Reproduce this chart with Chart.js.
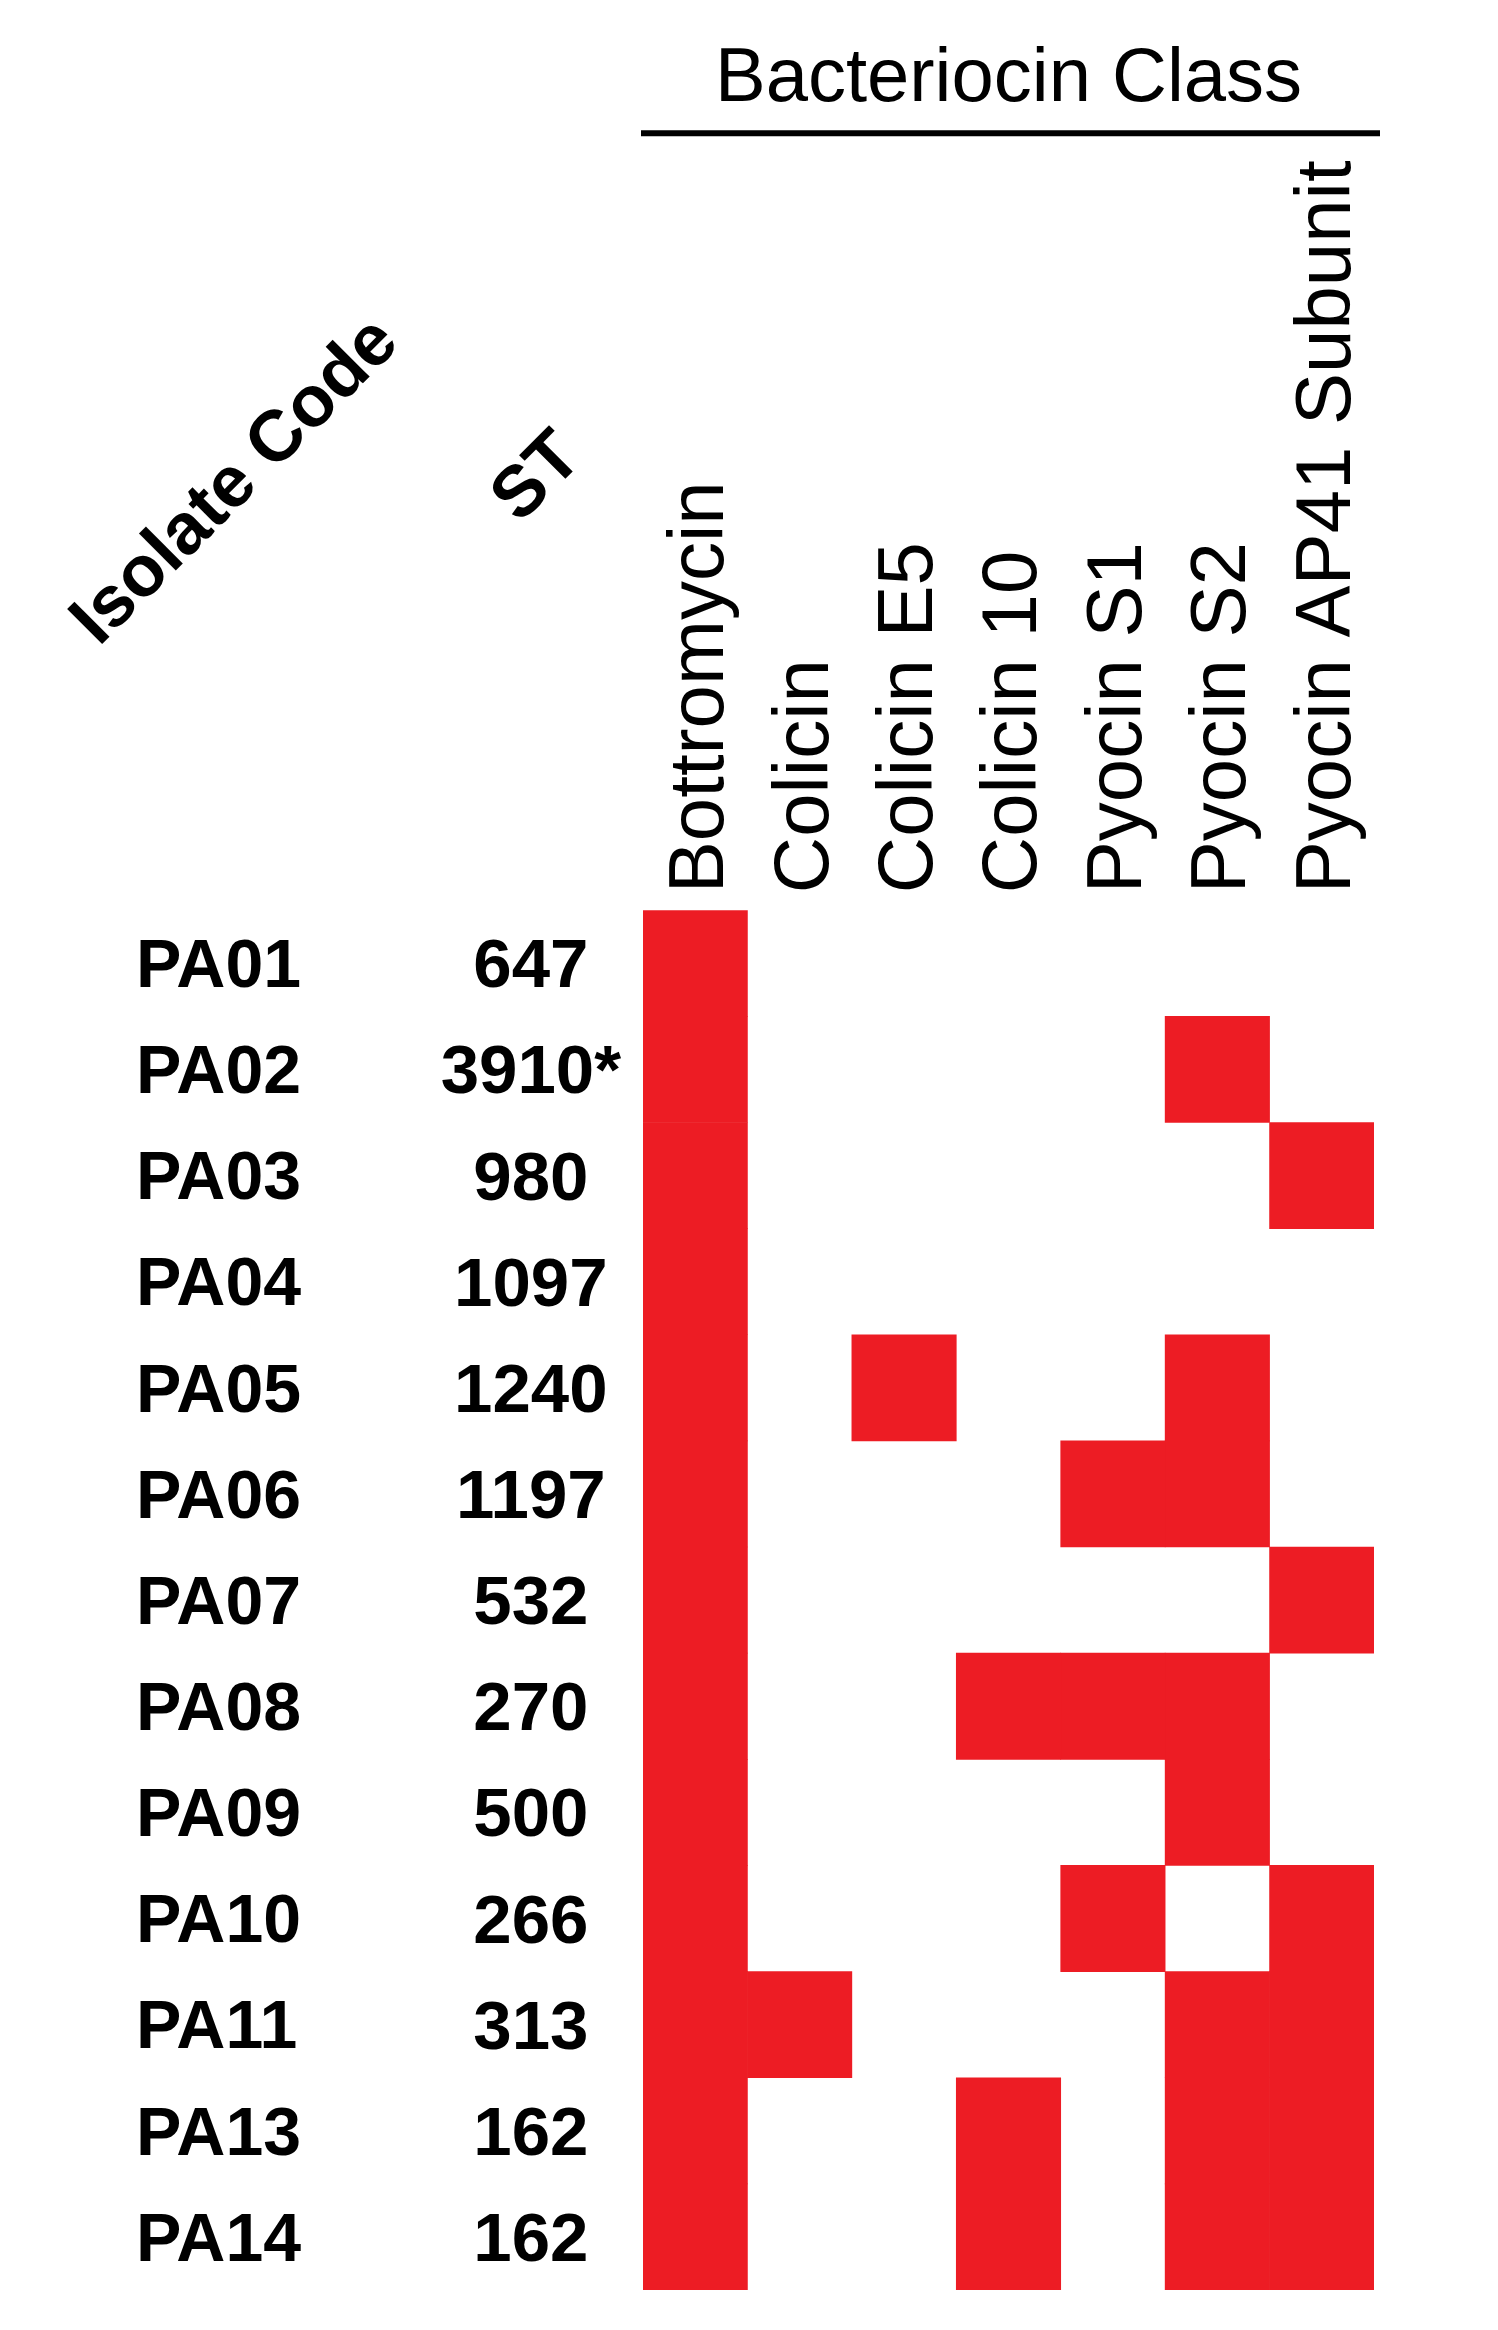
<!DOCTYPE html>
<html>
<head>
<meta charset="utf-8">
<title>Bacteriocin Class</title>
<script src="https://cdn.jsdelivr.net/npm/chart.js@4.4.1/dist/chart.umd.min.js"></script>
<style>
    html, body { margin: 0; padding: 0; background: #ffffff; }
    #wrap { width: 1498px; height: 2330px; position: relative; }
</style>
</head>
<body>
<div id="wrap"><canvas id="bacteriocinChart"></canvas></div>
<script>
// isolates (rows) and their sequence types
const isolates = ['PA01', 'PA02', 'PA03', 'PA04', 'PA05', 'PA06', 'PA07', 'PA08', 'PA09', 'PA10', 'PA11', 'PA13', 'PA14'];
const sequenceTypes = ['647', '3910*', '980', '1097', '1240', '1197', '532', '270', '500', '266', '313', '162', '162'];

// bacteriocin classes (columns)
const bacteriocins = ['Bottromycin', 'Colicin', 'Colicin E5', 'Colicin 10', 'Pyocin S1', 'Pyocin S2', 'Pyocin AP41 Subunit'];

// presence (1) / absence (0) per isolate, one array per bacteriocin
const bottromycin = [1, 1, 1, 1, 1, 1, 1, 1, 1, 1, 1, 1, 1];
const colicin     = [0, 0, 0, 0, 0, 0, 0, 0, 0, 0, 1, 0, 0];
const colicinE5   = [0, 0, 0, 0, 1, 0, 0, 0, 0, 0, 0, 0, 0];
const colicin10   = [0, 0, 0, 0, 0, 0, 0, 1, 0, 0, 0, 1, 1];
const pyocinS1    = [0, 0, 0, 0, 0, 1, 0, 1, 0, 1, 0, 0, 0];
const pyocinS2    = [0, 1, 0, 0, 1, 1, 0, 1, 1, 0, 1, 1, 1];
const pyocinAP41  = [0, 0, 1, 0, 0, 0, 1, 0, 0, 1, 1, 1, 1];

const presence = [bottromycin, colicin, colicinE5, colicin10, pyocinS1, pyocinS2, pyocinAP41];

const FONT = "'Liberation Sans', Arial, Helvetica, sans-serif";
const RED = '#ED1C24';

document.addEventListener('DOMContentLoaded', function() {
    initializeChart();
});

// keep the label axes from pushing the grid inwards
function noScalePadding(scale) {
    scale.paddingTop = 0;
    scale.paddingBottom = 0;
    scale.paddingLeft = 0;
    scale.paddingRight = 0;
}

// underline under the title + the two slanted row headers
const headerPlugin = {
    id: 'headers',
    afterDraw(chart) {
        const ctx = chart.ctx;
        const area = chart.chartArea;
        const tb = chart.titleBlock;
        ctx.save();
        // underline below "Bacteriocin Class"
        ctx.strokeStyle = '#000';
        ctx.lineWidth = 6;
        ctx.beginPath();
        ctx.moveTo(area.left - 2, tb.bottom);
        ctx.lineTo(area.right + 6, tb.bottom);
        ctx.stroke();

        // slanted headers for the row label columns
        const yIso = chart.scales.y;
        const ySt = chart.scales.yST;
        ctx.fillStyle = '#000';
        ctx.font = 'bold 72px ' + FONT;
        ctx.textAlign = 'center';
        ctx.textBaseline = 'middle';

        ctx.translate(yIso.left + 100, area.top - 428);
        ctx.rotate(-Math.PI / 4);
        ctx.fillText('Isolate Code', 0, 0);
        ctx.setTransform(1, 0, 0, 1, 0, 0);

        ctx.translate(ySt.right - 105, area.top - 432);
        ctx.rotate(-Math.PI / 4);
        ctx.fillText('ST', 0, 0);
        ctx.restore();
    }
};

function initializeChart() {
    const ctx = document.getElementById('bacteriocinChart');

    const datasets = presence.map(function(col, c) {
        return {
            label: bacteriocins[c],
            data: col.map(function(p) { return p ? [c, c + 1] : null; }),
            backgroundColor: RED,
            borderWidth: 0,
            borderSkipped: false,
            barPercentage: 1,
            categoryPercentage: 1,
            grouped: false
        };
    });

    const chart = new Chart(ctx, {
        type: 'bar',
        data: {
            labels: isolates,
            datasets: datasets
        },
        options: {
            indexAxis: 'y',
            responsive: true,
            maintainAspectRatio: false,
            animation: false,
            layout: {
                padding: { left: 136, right: 124, top: 0, bottom: 40 }
            },
            plugins: {
                legend: { display: false },
                tooltip: { enabled: false },
                title: {
                    display: true,
                    text: 'Bacteriocin Class',
                    fullSize: false,
                    color: '#000',
                    font: { family: FONT, size: 76, weight: 'normal' },
                    padding: { top: 34, bottom: 8 }
                }
            },
            scales: {
                x: {
                    type: 'linear',
                    min: 0,
                    max: bacteriocins.length,
                    display: false
                },
                xTop: {
                    type: 'category',
                    position: 'top',
                    labels: bacteriocins,
                    offset: true,
                    grid: { display: false, drawTicks: false },
                    border: { display: false },
                    ticks: {
                        color: '#000',
                        autoSkip: false,
                        minRotation: 90,
                        maxRotation: 90,
                        padding: 17,
                        labelOffset: 100,
                        font: { family: FONT, size: 78 }
                    },
                    afterFit: function(scale) {
                        scale.height = 777;
                        noScalePadding(scale);
                    }
                },
                y: {
                    type: 'category',
                    position: 'left',
                    weight: 1,
                    offset: true,
                    grid: { display: false, drawTicks: false },
                    border: { display: false },
                    ticks: {
                        color: '#000',
                        crossAlign: 'far',
                        padding: 0,
                        labelOffset: 5,
                        font: { family: FONT, size: 68, weight: 'bold' }
                    },
                    afterFit: function(scale) {
                        scale.width = 220;
                        noScalePadding(scale);
                    }
                },
                yST: {
                    type: 'category',
                    position: 'left',
                    weight: 0,
                    labels: sequenceTypes,
                    offset: true,
                    grid: { display: false, drawTicks: false },
                    border: { display: false },
                    ticks: {
                        color: '#000',
                        crossAlign: 'center',
                        padding: 22,
                        labelOffset: 5,
                        font: { family: FONT, size: 69, weight: 'bold' }
                    },
                    afterFit: function(scale) {
                        scale.width = 287;
                        noScalePadding(scale);
                    }
                }
            }
        },
        plugins: [headerPlugin]
    });

    return chart;
}
</script>
</body>
</html>
